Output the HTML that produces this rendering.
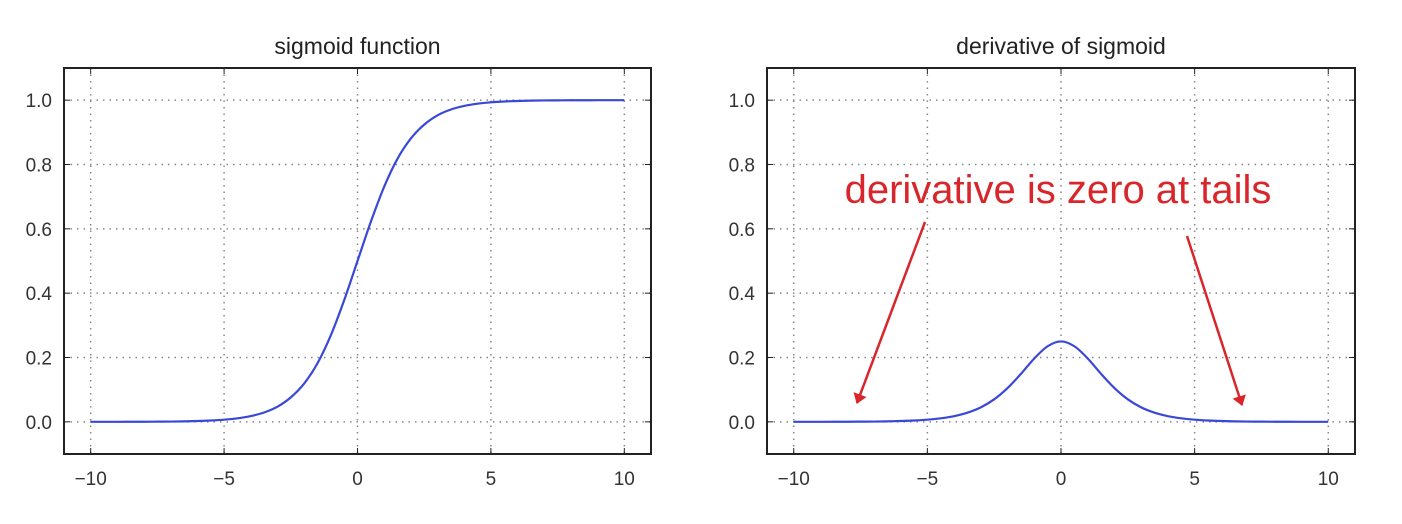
<!DOCTYPE html>
<html><head><meta charset="utf-8"><style>
body{margin:0;background:#fff;}
svg{display:block;font-family:"Liberation Sans","DejaVu Sans",sans-serif;}
</style></head><body>
<svg width="1402" height="524" viewBox="0 0 1402 524" id="fig">
<defs>
<marker id="ah" markerWidth="10" markerHeight="14" refX="9" refY="7" orient="auto" markerUnits="userSpaceOnUse">
<path d="M0,0 L10,7 L0,14 Z" fill="#d8262a"/></marker>
</defs>
<rect width="1402" height="524" fill="#fff"/>
<g id="left"></g>
<g id="right"></g>
<text x="1058" y="203" font-size="40" fill="#d8262a" text-anchor="middle">derivative is zero at tails</text>
<line x1="925" y1="222" x2="857" y2="403" stroke="#d8262a" stroke-width="2.5" marker-end="url(#ah)"/>
<line x1="1187" y1="236" x2="1242" y2="405" stroke="#d8262a" stroke-width="2.5" marker-end="url(#ah)"/>
</svg>
<script>
const xs=[-10,-9.5,-9,-8.5,-8,-7.5,-7,-6.5,-6,-5.5,-5,-4.5,-4,-3.5,-3,-2.5,-2,-1.5,-1,-0.5,0,0.5,1,1.5,2,2.5,3,3.5,4,4.5,5,5.5,6,6.5,7,7.5,8,8.5,9,9.5,10];
const sigmoidValues=[0.00005,0.0001,0.0001,0.0002,0.0003,0.0006,0.0009,0.0015,0.0025,0.0041,0.0067,0.011,0.018,0.029,0.047,0.076,0.119,0.182,0.269,0.378,0.5,0.622,0.731,0.818,0.881,0.924,0.953,0.971,0.982,0.989,0.9933,0.9959,0.9975,0.9985,0.9991,0.9994,0.9997,0.9998,0.9999,0.9999,0.99995];
const derivValues=[0.00005,0.0001,0.0001,0.0002,0.0003,0.0006,0.0009,0.0015,0.0025,0.0041,0.0066,0.011,0.0177,0.0285,0.045,0.070,0.105,0.149,0.197,0.235,0.25,0.235,0.197,0.149,0.105,0.070,0.045,0.0285,0.0177,0.011,0.0066,0.0041,0.0025,0.0015,0.0009,0.0006,0.0003,0.0002,0.0001,0.0001,0.00005];
const xTicks=[-10,-5,0,5,10];
const xTickLabels=["\u221210","\u22125","0","5","10"];
const yTicks=[0,0.2,0.4,0.6,0.8,1.0];
const yTickLabels=["0.0","0.2","0.4","0.6","0.8","1.0"];
const NS="http://www.w3.org/2000/svg";
function mk(t,a,p){const e=document.createElementNS(NS,t);for(const k in a)e.setAttribute(k,a[k]);p.appendChild(e);return e;}
function panel(g,L,R,title,vals,nm){
 const T=68,B=454;
 const sx=v=>L+(v+11)/22*(R-L), sy=v=>B-(v+0.1)/1.2*(B-T);
 xTicks.forEach((t,i)=>{
  const l=mk('line',{x1:sx(t),x2:sx(t),y1:T,y2:B,stroke:'#888','stroke-dasharray':'1.5,5','stroke-width':1.5},g);
  
  
  mk('line',{x1:sx(t),x2:sx(t),y1:B,y2:B-6,stroke:'#222'},g);
  mk('line',{x1:sx(t),x2:sx(t),y1:T,y2:T+6,stroke:'#222'},g);
  const tx=mk('text',{x:sx(t),y:B+31,'font-size':19,fill:'#333','text-anchor':'middle'},g);
  tx.textContent=xTickLabels[i];
  
  
 });
 yTicks.forEach((t,i)=>{
  const l=mk('line',{x1:L,x2:R,y1:sy(t),y2:sy(t),stroke:'#888','stroke-dasharray':'1.5,5','stroke-width':1.5},g);
  
  
  mk('line',{x1:L,x2:L+6,y1:sy(t),y2:sy(t),stroke:'#222'},g);
  mk('line',{x1:R,x2:R-6,y1:sy(t),y2:sy(t),stroke:'#222'},g);
  const tx=mk('text',{x:L-12,y:sy(t)+7,'font-size':19,fill:'#333','text-anchor':'end'},g);
  tx.textContent=yTickLabels[i];
  
  
 });
 const pts=xs.map((x,i)=>[sx(x),sy(vals[i])]);
 let d='M'+pts[0][0]+','+pts[0][1];
 for(let i=0;i<pts.length-1;i++){
  const p0=pts[Math.max(0,i-1)],p1=pts[i],p2=pts[i+1],p3=pts[Math.min(pts.length-1,i+2)];
  d+=' C'+(p1[0]+(p2[0]-p0[0])/6)+','+(p1[1]+(p2[1]-p0[1])/6)+' '+(p2[0]-(p3[0]-p1[0])/6)+','+(p2[1]-(p3[1]-p1[1])/6)+' '+p2[0]+','+p2[1];
 }
 const c=mk('path',{d:d,fill:'none',stroke:'#3a48d8','stroke-width':2.2},g);
 
 
 const f=mk('rect',{x:L,y:T,width:R-L,height:B-T,fill:'none',stroke:'#222','stroke-width':2},g);
 
 
 const tt=mk('text',{x:(L+R)/2,y:54,'font-size':23,fill:'#222','text-anchor':'middle'},g);
 tt.textContent=title;
 
 
}
panel(document.getElementById('left'),64,651,'sigmoid function',sigmoidValues,'sigmoid-line');
panel(document.getElementById('right'),767,1355,'derivative of sigmoid',derivValues,'derivative-line');
</script>
</body></html>
